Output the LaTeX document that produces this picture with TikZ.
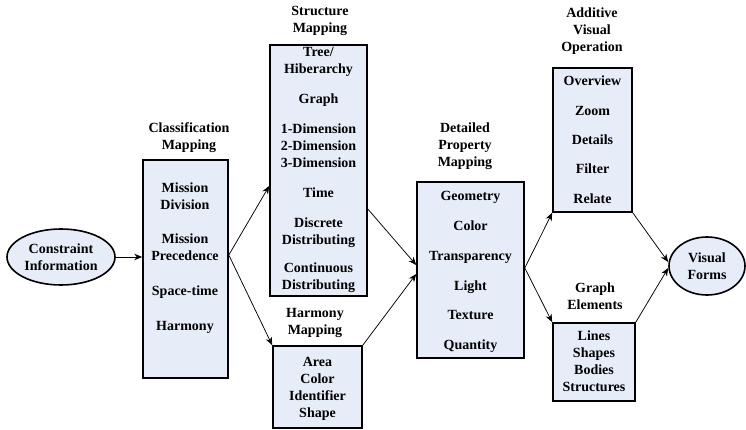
\documentclass[tikz,border=0pt]{standalone}
\usepackage{fontspec}
\setmainfont{Liberation Serif}
\usetikzlibrary{arrows.meta,shapes.geometric}
\definecolor{boxfill}{RGB}{231,237,248}
\tikzset{
  box/.style={draw, line width=1.6pt, fill=boxfill, inner sep=0pt},
  oval/.style={ellipse, draw, line width=1.6pt, fill=boxfill, inner sep=0pt,
    font=\fontsize{14}{17}\selectfont\bfseries, align=center},
  txt/.style={font=\fontsize{14}{17}\selectfont\bfseries, align=center,
    inner sep=0pt, anchor=north},
  arr/.style={-{Stealth[length=8pt,width=6.5pt]}, line width=0.75pt},
}
\begin{document}
\begin{tikzpicture}[x=1pt,y=-1pt]
\useasboundingbox (0,0) rectangle (746,430);

% end points
\node[oval, minimum width=108pt, minimum height=56pt] (con) at (61,257)
  {Constraint\\Information};
\node[oval, minimum width=76pt, minimum height=58pt] (vf) at (707,266)
  {Visual\\Forms};

% mapping boxes
\node[box, minimum width=85pt, minimum height=218pt] (cls) at (185.5,269) {};
\node[box, minimum width=97pt, minimum height=251pt] (str) at (318.5,170.5) {};
\node[box, minimum width=89pt, minimum height=82pt] (hrm) at (317.5,387) {};
\node[box, minimum width=107pt, minimum height=176pt] (det) at (470.5,270) {};
\node[box, minimum width=79pt, minimum height=144pt] (add) at (592.5,140) {};
\node[box, minimum width=82pt, minimum height=78pt] (gel) at (594,362) {};

% box titles
\node[txt] (clsL) at (189,122) {Classification\\Mapping};
\node[txt] (strL) at (320,6) {Structure\\Mapping};
\node[txt] (hrmL) at (315,308) {Harmony\\Mapping};
\node[txt] (detL) at (465,123) {Detailed\\Property\\Mapping};
\node[txt] (addL) at (592,8) {Additive\\Visual\\Operation};
\node[txt] (gelL) at (595,283) {Graph\\Elements};

% box contents
\node[txt] (clsC) at (185,183)
  {Mission\\Division\\[17pt]Mission\\Precedence\\[18pt]Space-time\\[18pt]Harmony};
\node[txt] (strC) at (318.5,47)
  {Tree/\\Hiberarchy\\[13pt]Graph\\[13pt]1-Dimension\\2-Dimension\\3-Dimension\\[13pt]Time\\[13pt]Discrete\\Distributing\\[11pt]Continuous\\Distributing};
\node[txt] (hrmC) at (317.5,357) {Area\\Color\\Identifier\\Shape};
\node[txt] (detC) at (470.5,191)
  {Geometry\\[13pt]Color\\[13pt]Transparency\\[13pt]Light\\[12pt]Texture\\[13pt]Quantity};
\node[txt] (addC) at (592.5,76)
  {Overview\\[12.5pt]Zoom\\[12.5pt]Details\\[12pt]Filter\\[12.5pt]Relate};
\node[txt] (gelC) at (594,331) {Lines\\Shapes\\Bodies\\Structures};

% connectors
\draw[arr] (con) -- (con -| cls.west);
\draw[arr] ([yshift=14pt]cls.east) -- ([yshift=-15.5pt]str.west);
\draw[arr] ([yshift=14pt]cls.east) -- (hrm.north west);
\draw[arr] ([yshift=-38.5pt]str.east) -- ([yshift=5pt]det.west);
\draw[arr] (hrm.north east) -- ([yshift=-4pt]det.west);
\draw[arr] ([yshift=2pt]det.east) -- (add.south west);
\draw[arr] ([yshift=2pt]det.east) -- (gel.north west);
\draw[arr] (add.south east) -- ([yshift=4pt]vf.west);
\draw[arr] (gel.north east) -- ([yshift=-2pt]vf.west);
\end{tikzpicture}
\end{document}
